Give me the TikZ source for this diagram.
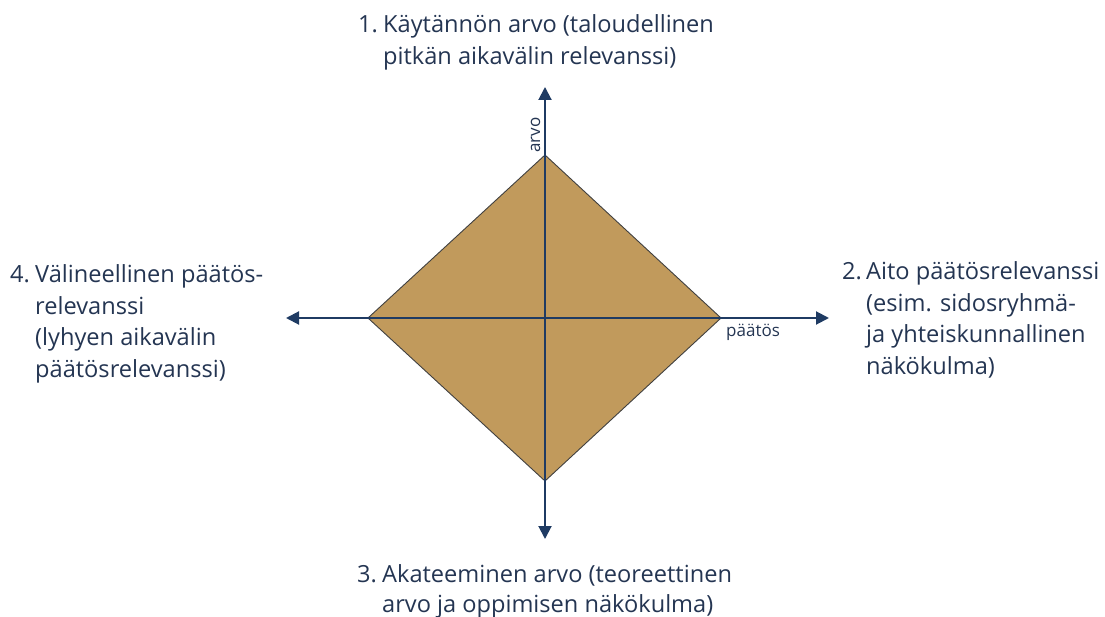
\documentclass[tikz,border=0pt]{standalone}
\usepackage{fontspec}
\setmainfont{Open Sans}
\usetikzlibrary{arrows.meta}
\definecolor{navy}{HTML}{1F3B63}
\definecolor{tan}{HTML}{C19A5C}
\definecolor{txt}{HTML}{243552}
\newcommand{\hang}[1]{\makebox[25pt][l]{#1}}
\begin{document}
\begin{tikzpicture}[x=1pt,y=-1pt,
  axis/.style={navy,line width=2pt,-{Triangle[length=13pt,width=13pt]}},
  lbl/.style={inner sep=0pt,text=txt,font=\fontsize{23.6}{31.5}\selectfont,anchor=base west},
  small/.style={inner sep=0pt,text=txt,font=\fontsize{17}{19}\selectfont}]
\useasboundingbox (0,0) rectangle (1105,617);
\coordinate (c) at (545,318);
\coordinate (t) at (545,155);
\coordinate (b) at (545,481);
\coordinate (l) at (368,318);
\coordinate (r) at (721,318);
\coordinate (ta) at (545,87);
\coordinate (ba) at (545,539);
\coordinate (la) at (286,318);
\coordinate (ra) at (829,318);
\fill[tan,draw=black!75,line width=0.9pt] (t) -- (r) -- (b) -- (l) -- cycle;
\draw[axis] (c) -- (ta);
\draw[axis] (c) -- (ba);
\draw[axis] (c) -- (la);
\draw[axis] (c) -- (ra);
\node[small,rotate=90,anchor=base west] (arvo) at (540,153) {arvo};
\node[small,anchor=base west] (paatos) at (726,337) {päätös};
\node[lbl] (n1) at (358,33) {\begin{tabular}[t]{@{}l@{}l@{}}\hang{1.}&Käytännön arvo (taloudellinen\\&pitkän aikavälin relevanssi)\end{tabular}};
\node[lbl] (n2) at (842,280) {\begin{tabular}[t]{@{}l@{}l@{}}\makebox[24pt][l]{2.}&Aito päätösrelevanssi\\&(esim. sidosryhmä-\\&ja yhteiskunnallinen\\&näkökulma)\end{tabular}};
\node[lbl,font=\fontsize{23.6}{30}\selectfont] (n3) at (357,582) {\begin{tabular}[t]{@{}l@{}l@{}}\hang{3.}&Akateeminen arvo (teoreettinen\\&arvo ja oppimisen näkökulma)\end{tabular}};
\node[lbl] (n4) at (10,283) {\begin{tabular}[t]{@{}l@{}l@{}}\hang{4.}&Välineellinen päätös-\\&relevanssi\\&(lyhyen aikavälin\\&päätösrelevanssi)\end{tabular}};
\end{tikzpicture}
\end{document}
